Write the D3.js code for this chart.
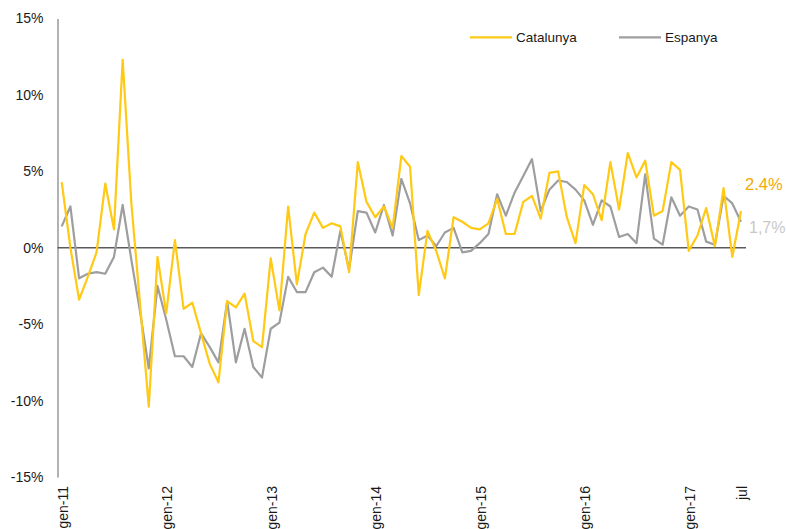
<!DOCTYPE html>
<html>
<head>
<meta charset="utf-8">
<script src="https://cdn.jsdelivr.net/npm/d3@7"></script>
<style>
  body { margin: 0; background: #fff; }
  svg { display: block; font-family: "Liberation Sans", Arial, sans-serif; }
</style>
</head>
<body>
<div id="chart"></div>
<script>
// monthly values, gen-11 .. jul-17
var catalunya = [4.3, 0.0, -3.4, -1.9, -0.3, 4.2, 1.2, 12.3, 2.9, -3.7, -10.4, -0.6,
  -4.3, 0.5, -4.0, -3.6, -5.6, -7.6, -8.8, -3.5, -3.9, -3.0, -6.1, -6.5,
  -0.7, -4.1, 2.7, -2.4, 0.9, 2.3, 1.3, 1.6, 1.4, -1.6, 5.6, 3.0,
  2.0, 2.7, 1.3, 6.0, 5.3, -3.1, 1.1, -0.2, -2.0, 2.0, 1.7, 1.3,
  1.2, 1.6, 3.2, 0.9, 0.9, 3.0, 3.4, 1.9, 4.9, 5.0, 2.0, 0.3,
  4.1, 3.5, 1.8, 5.6, 2.5, 6.2, 4.6, 5.7, 2.1, 2.4, 5.6, 5.1,
  -0.2, 0.8, 2.6, 0.1, 3.9, -0.6, 2.4];

var espanya = [1.4, 2.7, -2.0, -1.7, -1.6, -1.7, -0.6, 2.8, -0.8, -4.2, -7.9, -2.5,
  -4.7, -7.1, -7.1, -7.8, -5.6, -6.5, -7.5, -3.5, -7.5, -5.3, -7.8, -8.5,
  -5.3, -4.9, -1.9, -2.9, -2.9, -1.6, -1.3, -1.9, 1.1, -1.4, 2.4, 2.3,
  1.0, 2.8, 0.8, 4.5, 2.9, 0.5, 0.8, 0.1, 1.0, 1.3, -0.3, -0.2,
  0.3, 0.9, 3.5, 2.1, 3.6, 4.7, 5.8, 2.4, 3.8, 4.4, 4.3, 3.8,
  3.1, 1.5, 3.1, 2.7, 0.7, 0.9, 0.3, 4.8, 0.6, 0.2, 3.3, 2.1,
  2.7, 2.5, 0.4, 0.2, 3.4, 2.9, 1.7];

var xTickIndex = [0, 12, 24, 36, 48, 60, 72, 78];
var xTickLabels = ["gen-11", "gen-12", "gen-13", "gen-14", "gen-15", "gen-16", "gen-17", "jul"];
var yTicks = [-15, -10, -5, 0, 5, 10, 15];
var seriesNames = ["Catalunya", "Espanya"];
var lastLabels = ["2.4%", "1,7%"];

var width = 786, height = 529;
var colYellow = "#FFC914", colGrey = "#9E9E9E";

var svg = d3.select("#chart").append("svg")
    .attr("width", width)
    .attr("height", height);

var x = d3.scaleLinear().domain([0, catalunya.length - 1]).range([61.7, 741]);
var y = d3.scaleLinear().domain([-15, 15]).range([477, 18.5]);

// y axis (line + labels, no tick marks)
var yAxis = svg.append("g")
    .attr("transform", "translate(57.5,0)")
    .call(d3.axisLeft(y).tickValues(yTicks).tickSize(0).tickPadding(14)
        .tickFormat(function(d) { return d + "%"; }));
yAxis.select(".domain").attr("stroke", "#7f7f7f").attr("stroke-width", 1.2);
yAxis.selectAll("text")
    .attr("font-size", "14px")
    .attr("fill", "#1a1a1a")
    .attr("font-family", "Liberation Sans, Arial, sans-serif");

// zero line
svg.append("line")
    .attr("x1", 57.5).attr("x2", 746)
    .attr("y1", y(0)).attr("y2", y(0))
    .attr("stroke", "#5a5a5a")
    .attr("stroke-width", 1.5);

// x labels
var xAxis = svg.append("g").attr("class", "xText");
xAxis.selectAll("text")
    .data(xTickIndex)
    .enter().append("text")
    .attr("transform", function(d) { return "translate(" + (x(d) + 1) + ",486)rotate(-90)"; })
    .attr("text-anchor", "end")
    .attr("dy", "0.35em")
    .attr("font-size", "14px")
    .attr("fill", "#1a1a1a")
    .text(function(d, i) { return xTickLabels[i]; });

var line = d3.line()
    .x(function(d, i) { return x(i); })
    .y(function(d) { return y(d); });

svg.append("path")
    .datum(espanya)
    .attr("fill", "none")
    .attr("stroke", colGrey)
    .attr("stroke-width", 2.2)
    .attr("stroke-linejoin", "round")
    .attr("d", line);

svg.append("path")
    .datum(catalunya)
    .attr("fill", "none")
    .attr("stroke", colYellow)
    .attr("stroke-width", 2.2)
    .attr("stroke-linejoin", "round")
    .attr("d", line);

// end labels
svg.append("text")
    .attr("x", 745).attr("y", 190)
    .attr("font-size", "16.5px")
    .attr("fill", "#F4AA00")
    .text(lastLabels[0]);

svg.append("text")
    .attr("x", 749).attr("y", 232.5)
    .attr("font-size", "16px")
    .attr("fill", "#C8C8C8")
    .text(lastLabels[1]);

// legend
var legend = svg.append("g").attr("class", "legend");
var legendX = [470, 619];
var legendCol = [colYellow, colGrey];
seriesNames.forEach(function(name, i) {
  legend.append("line")
      .attr("x1", legendX[i]).attr("x2", legendX[i] + 42)
      .attr("y1", 37.3).attr("y2", 37.3)
      .attr("stroke", legendCol[i])
      .attr("stroke-width", 2.2);
  legend.append("text")
      .attr("x", legendX[i] + 46)
      .attr("y", 37.3)
      .attr("dy", "0.35em")
      .attr("font-size", "13.5px")
      .attr("fill", "#1a1a1a")
      .text(name);
});
</script>
</body>
</html>
